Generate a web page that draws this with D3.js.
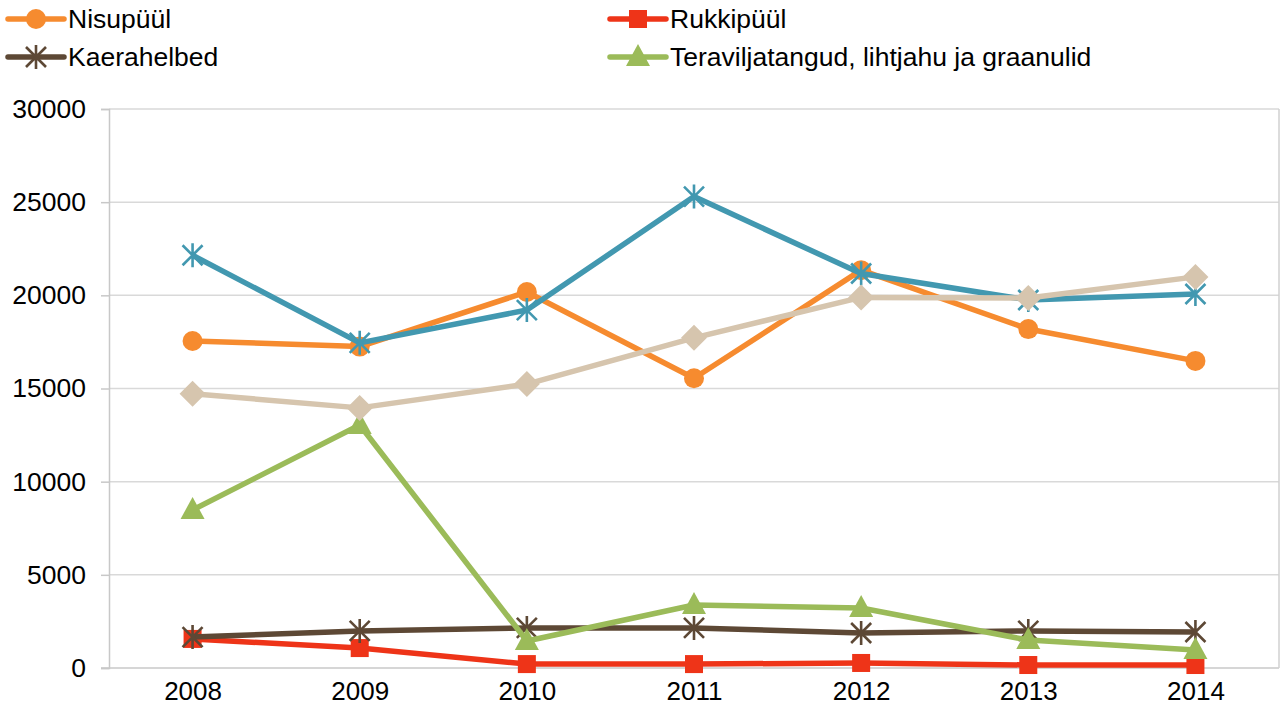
<!DOCTYPE html>
<html>
<head>
<meta charset="utf-8">
<script src="https://cdn.jsdelivr.net/npm/d3@7"></script>
<style>
  body { margin: 0; background: #fff; }
  text { font-family: "Liberation Sans", Arial, sans-serif; fill: #000; }
</style>
</head>
<body>
<svg id="chart" width="1288" height="713"></svg>
<script>
// years on the x axis
var years = ["2008", "2009", "2010", "2011", "2012", "2013", "2014"]
var yTicks = [0, 5000, 10000, 15000, 20000, 25000, 30000]

// series values
var nisupyyl   = [17550, 17250, 20180, 15550, 21350, 18190, 16480]
var rukkipyyl  = [1560, 1070, 210, 210, 270, 160, 160]
var kaerahelbed = [1660, 1990, 2150, 2150, 1880, 1990, 1930]
var teravili   = [8480, 13040, 1450, 3380, 3220, 1500, 970]
var seeria5    = [22150, 17450, 19210, 25300, 21170, 19750, 20070]
var seeria6    = [14720, 13960, 15240, 17720, 19890, 19860, 20990]

var series = [
  {name: "Nisupüül", values: nisupyyl, color: "#f68b2f", marker: "circle", legend: true},
  {name: "Rukkipüül", values: rukkipyyl, color: "#ee3418", marker: "square", legend: true},
  {name: "Kaerahelbed", values: kaerahelbed, color: "#5d4835", marker: "star", legend: true},
  {name: "Teraviljatangud, lihtjahu ja graanulid", values: teravili, color: "#9bbb59", marker: "triangle", legend: true},
  {name: "Seeria 5", values: seeria5, color: "#4298b0", marker: "star", legend: false},
  {name: "Seeria 6", values: seeria6, color: "#d6c5ae", marker: "diamond", legend: false}
]

var svg = d3.select("#chart")
// plot area edges (don't call it "top", that is window.top)
var plotL = 109, plotR = 1279, plotT = 109, plotB = 668

var x = d3.scalePoint().domain(years).range([plotL, plotR]).padding(0.5)
var y = d3.scaleLinear().domain([0, 30000]).range([plotB, plotT])

// gridlines
svg.append("g").selectAll("line")
  .data(yTicks.filter(function(d) { return d > 0 }))
  .enter().append("line")
  .attr("x1", plotL).attr("x2", plotR)
  .attr("y1", function(d) { return y(d) }).attr("y2", function(d) { return y(d) })
  .attr("stroke", "#d9d9d9").attr("stroke-width", 1.5)

// y axis
var yAxis = svg.append("g")
  .attr("transform", "translate(" + plotL + ",0)")
  .call(d3.axisLeft(y).tickValues(yTicks).tickFormat(d3.format("d")).tickSize(8).tickPadding(15))
yAxis.select(".domain").attr("stroke", "#c8c8c8").attr("stroke-width", 1.5)
yAxis.selectAll(".tick line").attr("stroke", "#c8c8c8").attr("stroke-width", 1.5)
yAxis.selectAll("text").style("font-size", "26.5px").style("font-family", "Liberation Sans, Arial, sans-serif").attr("fill", "#000")

// x axis
var xAxis = svg.append("g")
  .attr("transform", "translate(0," + plotB + ")")
  .call(d3.axisBottom(x).tickSize(0).tickPadding(14))
xAxis.select(".domain").attr("d", "M" + (plotL - 8) + ",0H" + plotR).attr("stroke", "#c8c8c8").attr("stroke-width", 1.5)
xAxis.selectAll("text").style("font-size", "26px").style("font-family", "Liberation Sans, Arial, sans-serif").attr("fill", "#000")

// right border of plot area
svg.append("line")
  .attr("x1", plotR).attr("x2", plotR).attr("y1", plotT).attr("y2", plotB)
  .attr("stroke", "#d0d0d0").attr("stroke-width", 1.5)

// draws a marker of given type centred on 0,0
function drawMarker(g, type, color) {
  if (type === "circle") {
    g.append("circle").attr("r", 10).attr("fill", color)
  } else if (type === "square") {
    g.append("rect").attr("x", -9).attr("y", -9).attr("width", 18).attr("height", 18).attr("fill", color)
  } else if (type === "diamond") {
    g.append("path").attr("d", "M0,-13L13,0L0,13L-13,0Z").attr("fill", color)
  } else if (type === "triangle") {
    g.append("path").attr("d", "M0,-13L12,9L-12,9Z").attr("fill", color)
  } else if (type === "star") {
    g.append("path")
      .attr("d", "M0,-12V12M-10,-10L10,10M-10,10L10,-10")
      .attr("stroke", color).attr("stroke-width", 2.6).attr("fill", "none")
  }
}

var line = d3.line()
  .x(function(d, i) { return x(years[i]) })
  .y(function(d) { return y(d) })

series.forEach(function(s) {
  var g = svg.append("g").attr("class", "series")
  g.append("path")
    .attr("d", line(s.values))
    .attr("fill", "none")
    .attr("stroke", s.color)
    .attr("stroke-width", 5.5)
    .attr("stroke-linejoin", "round")
  g.selectAll(".marker")
    .data(s.values)
    .enter().append("g")
    .attr("class", "marker")
    .attr("transform", function(d, i) { return "translate(" + x(years[i]) + "," + y(d) + ")" })
    .each(function() { drawMarker(d3.select(this), s.marker, s.color) })
})

// legend, two columns
var legendPos = [[8, 19], [610, 19], [8, 57], [610, 57]]
var legend = svg.append("g").selectAll("g")
  .data(series.filter(function(s) { return s.legend }))
  .enter().append("g")
  .attr("transform", function(d, i) { return "translate(" + legendPos[i][0] + "," + legendPos[i][1] + ")" })
legend.append("line")
  .attr("x1", 0).attr("x2", 56)
  .attr("stroke", function(d) { return d.color })
  .attr("stroke-width", 5.5).attr("stroke-linecap", "round")
legend.each(function(d) {
  var m = d3.select(this).append("g").attr("transform", "translate(28,0)")
  drawMarker(m, d.marker, d.color)
})
legend.append("text")
  .attr("x", 60).attr("dy", "0.35em")
  .style("font-size", "26.5px")
  .text(function(d) { return d.name })
</script>
</body>
</html>
